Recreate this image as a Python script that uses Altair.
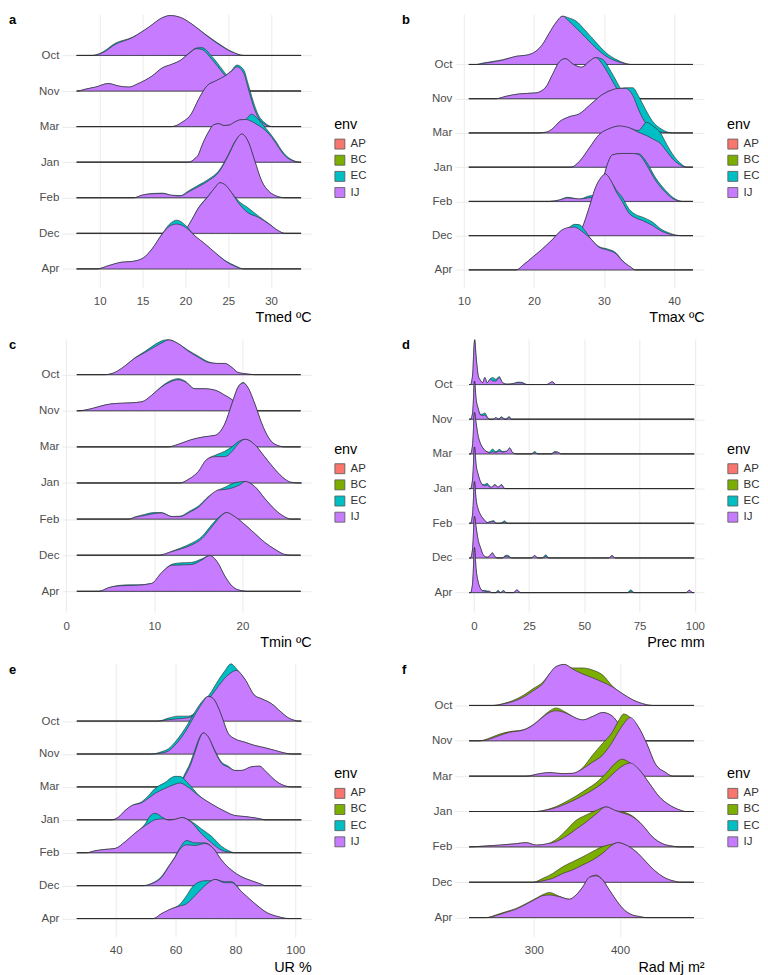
import altair as alt
import pandas as pd

MONTHS = ["Apr", "Dec", "Feb", "Jan", "Mar", "Nov", "Oct"]          # bottom -> top rows
DRAW_ORDER = ["Oct", "Nov", "Mar", "Jan", "Feb", "Dec", "Apr"]      # upper ridges first
ENV = ["AP", "BC", "EC", "IJ"]
ENV_COLORS = ["#F8766D", "#7CAE00", "#00BFC4", "#C77CFF"]

# each month: (x values, IJ density height, stacked EC/BC height) in ridge-row units
TMED = {
    "Oct": ([9.1, 10.3, 11.8, 13.8, 15.7, 17.3, 18.2, 19.4, 20.7, 22.3, 23.9, 25.4, 26.8],
            [0, .07, .31, .5, .79, 1.06, 1.12, 1.07, .89, .59, .31, .1, 0],
            [0, .02, .03, .01, 0, 0, 0, 0, 0, .01, .02, .01, 0]),
    "Nov": ([7.4, 8.3, 9.5, 11.0, 12.2, 13.4, 14.5, 16.1, 17.3, 18.4, 19.4, 20.4, 21.3, 21.9, 23.1, 24.2, 24.8, 26.0, 27.0, 27.7],
            [0, .05, .11, .21, .14, .11, .21, .42, .65, .75, .86, 1.05, 1.19, 1.17, .89, .56, .39, .2, .05, 0],
            [0, 0, 0, 0, 0, 0, 0, 0, 0, 0, 0, .01, .02, .05, .08, .08, .06, .03, .01, 0]),
    "Mar": ([18.4, 19.6, 20.7, 21.5, 22.5, 23.5, 24.6, 25.4, 26.0, 26.8, 27.3, 27.9, 28.5, 29.3, 30.1],
            [0, .12, .36, .75, 1.14, 1.28, 1.42, 1.56, 1.68, 1.5, 1.1, .6, .25, .06, 0],
            [0, 0, 0, 0, 0, 0, 0, .02, .05, .1, .12, .12, .08, .04, 0]),
    "Jan": ([20.4, 21.1, 21.5, 21.9, 22.7, 23.3, 23.9, 24.5, 25.1, 25.7, 26.4, 27.0, 27.7, 28.4, 29.3, 30.0, 30.6, 31.2, 31.8, 32.5, 33.3],
            [0, .1, .2, .45, .85, 1.05, 1.08, 1.03, 1.04, 1.12, 1.19, 1.2, 1.15, 1.05, .9, .72, .52, .3, .14, .04, 0],
            [0, 0, 0, 0, 0, 0, 0, 0, 0, 0, 0, 0, .2, .18, .08, .05, .05, .04, .03, .02, 0]),
    "Feb": ([14.0, 14.9, 16.1, 17.3, 18.4, 19.4, 20.4, 21.5, 22.7, 23.9, 25.0, 25.8, 26.6, 27.3, 28.1, 28.9, 29.7, 30.4, 31.6],
            [0, .07, .11, .12, .07, .05, .17, .31, .48, .72, 1.18, 1.57, 1.79, 1.59, 1.03, .47, .19, .07, 0],
            [0, 0, .01, .01, 0, .01, .03, .04, .04, .04, .03, .02, 0, 0, 0, 0, 0, 0, 0]),
    "Dec": ([19.0, 20.0, 20.55, 21.5, 22.7, 23.5, 24.0, 24.7, 25.4, 26.2, 27.3, 28.5, 29.7, 30.8, 31.6],
            [0, .1, .3, .7, 1.05, 1.3, 1.42, 1.35, 1.14, .85, .58, .45, .27, .08, 0],
            [0, 0, 0, .01, .01, 0, 0, 0, 0, .06, .14, .04, .01, 0, 0]),
    "Apr": ([9.7, 11.0, 12.6, 13.8, 15.1, 16.1, 17.3, 18.2, 19.0, 20.0, 21.1, 22.3, 23.5, 24.6, 25.8, 26.8],
            [0, .09, .19, .21, .31, .56, .98, 1.21, 1.26, 1.17, .93, .7, .45, .23, .07, 0],
            [0, 0, 0, 0, 0, 0, .01, .06, .11, .06, 0, 0, 0, .01, .02, 0]),
}

TMAX = {
    "Oct": ([11.8, 12.7, 14.1, 15.6, 17.5, 18.9, 20.3, 21.2, 22.2, 23.1, 24.1, 25.0, 26.0, 27.4, 28.8, 30.3, 31.7, 33.1, 33.8],
            [0, .03, .07, .13, .24, .27, .39, .58, .92, 1.21, 1.41, 1.26, 1.07, .78, .49, .24, .1, .02, 0],
            [0, .01, .02, .01, 0, 0, 0, 0, 0, 0, 0, .1, .2, .2, .17, .1, .05, .01, 0]),
    "Nov": ([14.6, 16.0, 17.9, 20.3, 21.7, 22.7, 23.6, 24.5, 25.5, 26.8, 27.9, 28.8, 29.8, 30.7, 31.7, 32.6, 33.6, 34.5],
            [0, .07, .14, .17, .34, .73, 1.07, 1.17, 1.02, .92, 1.09, 1.2, 1.0, .7, .34, .1, .02, 0],
            [0, 0, 0, 0, 0, 0, 0, 0, 0, 0, 0, 0, .15, .2, .2, .12, .05, 0]),
    "Mar": ([20.3, 21.7, 22.7, 23.6, 25.0, 26.5, 27.9, 29.3, 30.7, 32.2, 33.1, 34.1, 35.0, 35.9, 36.9, 38.3, 39.8],
            [0, .02, .13, .32, .47, .56, .8, 1.05, 1.22, 1.3, 1.3, 1.1, .65, .3, .1, .02, 0],
            [0, 0, 0, 0, 0, 0, 0, 0, 0, 0, .02, .22, .4, .4, .25, .08, 0]),
    "Jan": ([25.3, 26.5, 27.9, 29.3, 30.7, 32.2, 33.6, 34.9, 36.1, 37.0, 38.0, 39.0, 40.0, 41.0, 41.8],
            [0, .17, .56, .95, 1.12, 1.2, 1.15, 1.02, .92, .82, .7, .45, .2, .05, 0],
            [0, 0, 0, 0, 0, 0, 0, .05, .39, .38, .32, .2, .12, .05, 0]),
    "Feb": ([22.2, 23.6, 24.8, 26.5, 27.7, 28.8, 29.8, 30.5, 31.2, 32.6, 34.1, 35.0, 36.0, 37.4, 38.8, 40.2, 41.2],
            [0, .04, .1, .07, .1, .15, .6, 1.09, 1.36, 1.4, 1.4, 1.36, 1.09, .6, .26, .04, 0],
            [0, 0, .02, 0, .05, .05, 0, 0, 0, 0, 0, .03, .08, .08, .06, .03, 0]),
    "Dec": ([26.0, 26.9, 27.9, 28.8, 29.6, 30.2, 31.0, 31.7, 32.6, 33.6, 34.5, 35.5, 36.9, 38.3, 39.3, 40.2, 41.0],
            [0, .24, .83, 1.41, 1.7, 1.8, 1.6, 1.3, 1.0, .65, .52, .44, .3, .12, .05, .01, 0],
            [0, 0, 0, 0, 0, 0, 0, .05, .12, .12, .1, .1, .1, .05, .03, .01, 0]),
    "Apr": ([17.5, 18.4, 19.8, 21.2, 22.7, 23.9, 25.0, 25.8, 26.5, 27.2, 27.9, 29.3, 30.5, 31.7, 32.6, 33.8, 34.5],
            [0, .13, .37, .61, .9, 1.15, 1.24, 1.25, 1.18, 1.07, .95, .66, .58, .47, .27, .08, 0],
            [0, 0, 0, 0, 0, 0, 0, .08, .14, .1, .02, .02, .03, .03, .01, 0, 0]),
}

TMIN = {
    "Oct": ([4.4, 5.5, 6.7, 7.8, 8.9, 10.1, 11.0, 11.6, 12.7, 13.8, 15.0, 16.1, 17.2, 18.0, 18.8, 19.5, 20.5, 21.4],
            [0, .06, .25, .46, .61, .78, .9, .96, .86, .66, .48, .34, .31, .31, .2, .06, .02, 0],
            [0, 0, 0, .01, .03, .06, .05, .01, 0, .02, .03, .02, 0, 0, 0, 0, 0, 0]),
    "Nov": ([1.4, 2.9, 4.4, 5.5, 7.4, 8.6, 9.7, 10.8, 11.8, 12.7, 13.5, 14.6, 15.7, 16.9, 18.0, 18.8, 19.5, 20.5, 21.4],
            [0, .06, .16, .2, .22, .25, .43, .66, .8, .86, .8, .61, .61, .57, .43, .31, .16, .04, 0],
            [0, 0, 0, 0, 0, 0, 0, .01, .03, .03, .02, 0, 0, 0, 0, 0, 0, 0, 0]),
    "Mar": ([11.6, 12.7, 14.2, 15.7, 16.9, 18.0, 18.8, 19.5, 20.1, 20.6, 21.4, 22.2, 22.9, 23.7, 24.8],
            [0, .07, .2, .28, .32, .64, 1.19, 1.65, 1.77, 1.65, 1.19, .64, .28, .07, 0],
            [0, 0, 0, 0, 0, 0, 0, .01, .01, 0, 0, 0, 0, 0, 0]),
    "Jan": ([12.9, 13.8, 15.0, 15.9, 16.9, 18.0, 18.8, 19.5, 20.3, 21.4, 22.5, 23.7, 24.8, 25.5, 26.7],
            [0, .09, .32, .64, .73, .73, .87, 1.08, 1.21, 1.06, .73, .37, .11, .02, 0],
            [0, 0, 0, 0, .04, .15, .13, .06, 0, 0, 0, 0, 0, 0, 0]),
    "Feb": ([7.1, 7.8, 8.9, 9.9, 10.8, 12.0, 12.9, 14.0, 15.0, 16.1, 17.2, 18.0, 18.8, 19.7, 20.3, 21.4, 22.5, 23.7, 24.8, 25.5],
            [0, .05, .1, .15, .17, .07, .07, .19, .33, .6, .8, .82, .86, .95, 1.04, .9, .58, .26, .06, 0],
            [0, .01, .03, .03, .01, 0, .01, .03, .03, .02, 0, .06, .12, .08, 0, 0, 0, 0, 0, 0]),
    "Dec": ([10.5, 12.0, 13.1, 14.2, 15.4, 16.5, 17.4, 18.2, 19.1, 20.3, 21.4, 22.5, 23.7, 24.8, 25.5],
            [0, .1, .18, .28, .46, .78, 1.04, 1.18, 1.07, .84, .6, .36, .16, .02, 0],
            [0, .01, .03, .05, .06, .06, .03, 0, 0, 0, 0, 0, 0, 0, 0]),
    "Apr": ([3.7, 4.8, 5.9, 7.1, 8.2, 9.7, 10.8, 12.0, 13.1, 14.2, 15.4, 16.3, 17.2, 18.0, 18.8, 19.5, 20.5],
            [0, .1, .15, .16, .17, .22, .51, .72, .73, .74, .87, .99, .79, .42, .15, .04, 0],
            [0, 0, .01, .02, .01, 0, 0, .03, .06, .06, .03, 0, 0, 0, 0, 0, 0]),
}

PREC = {
    "Oct": ([-1.5, -0.5, 0, 0.4, 1, 1.5, 2, 3, 4, 5, 6, 7.5, 8.5, 10, 11.5, 13, 15, 18, 20, 22, 24, 33, 35.5, 37],
            [0, .3, 1.0, 1.29, .8, .5, .25, .12, .05, .2, .05, .15, .1, .1, .2, .05, .01, .03, .05, .04, 0, 0, .08, 0],
            [0, 0, 0, 0, .05, 0, 0, 0, 0, 0, 0, .02, .1, .05, .03, 0, 0, 0, .02, .02, 0, 0, 0, 0]),
    "Nov": ([-1.5, -0.5, 0.3, 1, 2, 3, 4, 5, 6, 7, 9, 10, 11, 12.5, 13.5, 14.5, 16, 17],
            [0, .2, 1.1, .6, .3, .12, .1, .12, .05, 0, 0, .05, 0, .05, .02, 0, .05, 0],
            [0, 0, 0, 0, 0, .02, .05, .06, .03, 0, 0, 0, 0, .02, 0, 0, .03, 0]),
    "Mar": ([-1.5, -0.5, 0.3, 1, 2, 3, 4, 5, 6, 7, 8.5, 10, 11.5, 13, 15, 16.2, 17.5, 19, 26, 27.5, 29, 35, 36.5, 38, 39.5],
            [0, .3, 1.2, .9, .5, .3, .18, .1, .06, .03, .06, .04, .08, .05, .08, .17, .04, 0, 0, .03, 0, 0, .04, .05, 0],
            [0, 0, 0, 0, 0, 0, 0, 0, 0, .02, .08, .02, .05, .02, 0, 0, 0, 0, 0, .04, 0, 0, .03, 0, 0]),
    "Jan": ([-1.5, -0.5, 0.3, 1, 2, 3, 4, 5, 6, 7, 8, 9.5, 11, 12.5, 14],
            [0, .3, 1.2, .7, .4, .2, .1, .08, .1, .05, .04, .1, .04, .1, 0],
            [0, 0, 0, 0, 0, 0, .02, .04, .05, .03, 0, .02, 0, .02, 0]),
    "Feb": ([-1.5, -0.5, 0.3, 1, 2, 3, 4, 5, 6, 7, 8, 9, 10, 12, 14, 15],
            [0, .3, 1.2, .7, .4, .25, .15, .08, .02, .03, .04, .05, 0, 0, .03, 0],
            [0, 0, 0, 0, 0, 0, 0, 0, 0, .01, .02, .03, 0, 0, .04, 0]),
    "Dec": ([-1.5, -0.5, 0.3, 1, 2, 3, 4, 5, 6, 7, 8.4, 9.5, 10.5, 13, 14, 15, 16, 17, 26, 27.5, 29, 31, 32.5, 34, 61, 62.5, 64],
            [0, .3, 1.2, .9, .5, .3, .12, .04, .02, .05, .14, .04, 0, 0, .04, .05, .03, 0, 0, .06, 0, 0, .04, 0, 0, .06, 0],
            [0, 0, 0, 0, 0, 0, 0, 0, 0, 0, .01, 0, 0, 0, .02, .03, .02, 0, 0, .01, 0, 0, .05, 0, 0, .01, 0]),
    "Apr": ([-1.5, -0.5, 0.3, 1, 2, 3, 4, 5, 6, 7, 8, 10, 11, 12, 13.5, 14.5, 18, 19.5, 21, 69.5, 71, 72.5, 96, 97.5, 99],
            [0, .3, 1.3, .7, .3, .12, .05, .04, .03, .04, 0, 0, .04, 0, .05, 0, 0, .08, 0, 0, .03, 0, 0, .07, 0],
            [0, 0, 0, 0, 0, 0, .01, .02, .02, 0, 0, 0, .03, 0, .01, 0, 0, 0, 0, 0, .05, 0, 0, 0, 0]),
}

UR = {
    "Oct": ([54.2, 57.6, 60.9, 64.2, 67, 69.5, 72, 74.2, 76.4, 78.5, 80.3, 83.1, 86.4, 88.7, 92.0, 95.3, 97.6, 99.8, 101],
            [0, .04, .07, .1, .25, .5, .78, 1.05, 1.3, 1.47, 1.54, 1.28, .78, .68, .53, .27, .1, .02, 0],
            [0, .05, .08, .05, .04, .08, .12, .18, .22, .27, .05, 0, 0, 0, 0, 0, 0, 0, 0]),
    "Nov": ([52, 55.3, 57.6, 59.8, 62, 64.2, 66.4, 68.7, 70.9, 72.6, 74.2, 75.9, 77.6, 79.8, 83.1, 86.4, 89.8, 93.1, 96.4, 98.7],
            [0, .03, .09, .27, .51, .82, 1.18, 1.52, 1.75, 1.68, 1.42, 1.02, .62, .46, .36, .26, .19, .11, .03, 0],
            [0, .04, .07, .09, .11, .11, .09, .06, 0, 0, 0, 0, 0, 0, 0, 0, 0, 0, 0, 0]),
    "Mar": ([60, 61.4, 63.1, 64.8, 66.4, 68.1, 69.2, 70.9, 73.1, 75.3, 77.6, 79.8, 82, 85.3, 88.1, 89.8, 92, 94.8, 97, 98.7],
            [0, .06, .33, .63, 1.03, 1.48, 1.64, 1.52, 1.08, .72, .6, .5, .5, .61, .63, .5, .3, .1, .02, 0],
            [0, .04, .07, .08, .08, .04, 0, 0, .03, .04, .03, 0, 0, 0, 0, 0, 0, 0, 0, 0]),
    "Jan": ([38.7, 40.9, 43.1, 45.3, 48.7, 51, 53.1, 56.4, 59.8, 61.4, 64.2, 67.6, 72, 76.4, 79.8, 83.1, 86.4, 88.7, 89.8],
            [0, .08, .28, .43, .52, .66, .8, .95, 1.08, 1.12, .99, .74, .48, .26, .13, .1, .06, .02, 0],
            [0, 0, 0, 0, .03, .08, .15, .18, .24, .2, .12, .02, 0, 0, 0, 0, 0, 0, 0]),
    "Feb": ([30.3, 33.1, 36.4, 39.8, 43.1, 46.4, 49.8, 51.5, 53.1, 55.9, 57.6, 60.9, 62, 65.3, 68.7, 72, 75.3, 77.6, 79.8],
            [0, .06, .1, .13, .33, .59, .82, .92, 1.0, 1.03, .99, 1.04, 1.07, .92, .57, .3, .08, .02, 0],
            [0, 0, 0, 0, 0, 0, .05, .2, .2, .03, 0, 0, 0, .03, .15, .2, .12, .05, 0]),
    "Dec": ([49.2, 52, 55.3, 57.6, 59.8, 61.4, 63.7, 66.4, 69.8, 72.6, 75.3, 78.7, 82, 85.3, 88.7, 89.8],
            [0, .06, .25, .56, .86, 1.1, 1.24, 1.22, 1.28, 1.13, .78, .47, .27, .15, .04, 0],
            [0, .01, .03, .02, .02, .04, .13, .08, .02, 0, 0, 0, 0, 0, 0, 0]),
    "Apr": ([52.6, 55.3, 58.7, 61.4, 63.7, 65.5, 67.6, 69.8, 72, 73.1, 76.4, 78.7, 82, 86.4, 90.9, 94.2, 97.6],
            [0, .15, .3, .38, .45, .6, .8, 1.0, 1.15, 1.19, 1.09, 1.09, .82, .46, .16, .06, 0],
            [0, 0, 0, .05, .25, .35, .3, .15, 0, 0, .03, .03, 0, 0, 0, 0, 0]),
}

RAD = {
    "Oct": ([252.5, 264, 275.7, 287.3, 298.8, 310.4, 318, 325.9, 335.5, 345, 356.8, 368.3, 379.9, 391.5, 403.1, 414.7, 426.3, 437.8],
            [0, .04, .11, .23, .41, .62, .89, 1.1, 1.16, 1.03, .89, .78, .66, .52, .33, .16, .05, 0],
            [0, .01, .03, .05, .06, .04, 0, 0, 0, .03, .17, .22, .2, .02, 0, 0, 0, 0]),
    "Nov": ([237, 248.6, 260.2, 271.8, 287.3, 298.8, 310.4, 318, 325.9, 337.5, 349, 356.8, 368.3, 379.9, 391.5, 399.2, 406.9, 414.7, 422.4],
            [0, .05, .15, .24, .3, .44, .67, .8, .85, .78, .64, .59, .69, .8, .69, .45, .17, .03, 0],
            [0, .03, .04, .02, .01, .01, .02, .04, .08, .02, 0, 0, 0, 0, 0, 0, 0, 0, 0]),
    "Mar": ([291, 306.6, 318, 333.6, 345.2, 356.8, 368.3, 379.2, 390.7, 399.2, 404.3, 412, 421.7, 431.3, 441, 452.6, 461.3],
            [0, .07, .1, .07, .08, .21, .4, .58, .95, 1.3, 1.48, 1.66, 1.38, .91, .35, .11, 0],
            [0, 0, 0, 0, 0, .03, .2, .33, .28, .3, .28, 0, 0, 0, 0, 0, 0]),
    "Jan": ([302.7, 314.3, 325.9, 337.5, 349, 360.6, 372.2, 383.8, 394.7, 402.4, 412, 422.4, 434, 445.6, 457.1, 468.7, 476.4],
            [0, .04, .11, .22, .35, .5, .67, .88, 1.13, 1.28, 1.37, 1.18, .8, .42, .19, .05, 0],
            [0, .01, .03, .06, .09, .12, .14, .2, .24, .2, 0, 0, 0, 0, 0, 0, 0]),
    "Feb": ([225.5, 241, 260.2, 279.5, 291.1, 302.7, 314.3, 325.9, 337.5, 349, 360.6, 372.2, 383.8, 395.4, 403.1, 414.7, 426.3, 437.8, 449.4, 461, 468.7],
            [0, .02, .05, .09, .12, .05, .08, .15, .3, .5, .7, .93, 1.13, 1.02, .96, .85, .61, .28, .09, .02, 0],
            [0, 0, 0, 0, 0, 0, 0, .06, .17, .25, .2, .1, 0, 0, .03, .02, 0, 0, 0, 0, 0]),
    "Dec": ([298.8, 310.4, 322, 333.6, 345.2, 356.8, 368.3, 379.9, 391.5, 397.3, 407, 418.5, 430.1, 441.7, 453.3, 464.9, 468.7],
            [0, .04, .11, .25, .35, .49, .63, .82, 1.06, 1.12, 1.05, .87, .58, .3, .11, .02, 0],
            [0, .07, .14, .19, .23, .23, .24, .19, .02, 0, 0, 0, 0, 0, 0, 0, 0]),
    "Apr": ([244.8, 256.4, 268, 279.5, 291.1, 302.7, 310.4, 318, 329.7, 341.3, 349, 356.8, 364.5, 372.2, 379.9, 387.6, 395.4, 403.1, 412.7, 422.4, 430.1],
            [0, .06, .15, .24, .38, .53, .62, .64, .59, .52, .64, .87, 1.14, 1.18, 1.06, .78, .5, .26, .09, .03, 0],
            [0, .02, .02, .02, .02, .02, .03, .07, .01, 0, 0, 0, 0, .02, .01, 0, 0, 0, 0, 0, 0]),
}

FONT = "Liberation Sans"
OUTLINE = "#262626"


def panel(letter, xtitle, dens, extra_env, xdom, xticks, xspan, ydom):
    rows = []
    for m, (xs, ij, ex) in dens.items():
        i = MONTHS.index(m)
        xs2 = [xspan[0]] + xs + [xspan[1]]
        ij2 = [0] + ij + [0]
        ex2 = [0] + ex + [0]
        for x, h, e in zip(xs2, ij2, ex2):
            rows.append({"month": m, "x": x, "base": i, "ij": i + h, "tot": i + h + e})
    df = pd.DataFrame(rows)

    xenc = alt.X("x:Q", scale=alt.Scale(domain=xdom, nice=False, zero=False),
                 axis=alt.Axis(values=xticks, format="d", title=xtitle, grid=True, ticks=False,
                               tickSize=0, domain=False, labelFontSize=11.5, labelColor="#4D4D4D",
                               labelPadding=8, titleAnchor="end", titleFontSize=14.4,
                               titleFontWeight="normal", titleColor="#000000", titlePadding=4,
                               gridColor="#EBEBEB", gridWidth=1))
    yscale = alt.Scale(domain=ydom, nice=False, zero=False)
    yaxis = alt.Axis(values=list(range(7)), title=None, grid=True, ticks=False, tickSize=0,
                     domain=False, labelFontSize=11.5, labelColor="#4D4D4D", labelPadding=3,
                     labelExpr="['Apr','Dec','Feb','Jan','Mar','Nov','Oct'][datum.value]",
                     gridColor="#EBEBEB", gridWidth=1)
    color = alt.Color("env:N", scale=alt.Scale(domain=ENV, range=ENV_COLORS),
                      legend=alt.Legend(title="env", orient="none", legendX=273, legendY=104,
                                        symbolType="square", symbolSize=100,
                                        symbolStrokeColor="#555555", symbolStrokeWidth=0.8,
                                        symbolOpacity=1, labelFontSize=11.5, labelColor="#333333",
                                        titleFontSize=14.4, titleFontWeight="normal",
                                        titleColor="#000000", titlePadding=6, rowPadding=2.2,
                                        labelOffset=5))
    layers = []
    base = alt.Chart(df)
    for m in DRAW_ORDER:
        sub = base.transform_filter(alt.datum.month == m)
        layers.append(
            sub.transform_calculate(env=f"'{extra_env}'")
            .mark_area(interpolate="monotone", stroke=OUTLINE, strokeWidth=0.6)
            .encode(x=xenc, y=alt.Y("tot:Q", scale=yscale, axis=yaxis), y2="base:Q", color=color)
        )
        layers.append(
            sub.transform_calculate(env="'IJ'")
            .mark_area(interpolate="monotone", stroke=OUTLINE, strokeWidth=0.6)
            .encode(x=xenc, y=alt.Y("ij:Q", scale=yscale, axis=yaxis), y2="base:Q", color=color)
        )
    lab = alt.Chart(pd.DataFrame({"t": [letter]})).mark_text(
        align="left", baseline="middle", fontWeight="bold", fontSize=13, font=FONT, color="#000000"
    ).encode(text="t:N", x=alt.value(-53), y=alt.value(6))
    layers.append(lab)
    return alt.layer(*layers).properties(width=250, height=274)


pa = panel("a", "Tmed ºC", TMED, "EC", [5.58, 34.68], [10, 15, 20, 25, 30], (7.3, 33.5), [-0.524, 7.157])
pb = panel("b", "Tmax ºC", TMAX, "EC", [8.7, 44.3], [10, 20, 30, 40], (10.7, 42.7), [-0.516, 7.466])
pc = panel("c", "Tmin ºC", TMIN, "EC", [-0.5, 27.8], [0, 10, 20], (1.2, 26.6), [-0.578, 6.99])
pd_ = panel("d", "Prec mm", PREC, "EC", [-8.6, 104.2], [0, 25, 50, 75, 100], (-2.1, 99.7), [-0.564, 7.315])
pe = panel("e", "UR %", UR, "EC", [22.0, 105.3], [40, 60, 80, 100], (27, 102), [-0.555, 7.748])
pf = panel("f", "Rad Mj m²", RAD, "BC", [208.1, 497.8], [300, 400], (224.7, 486), [-0.544, 7.185])

chart = (
    alt.concat(pa, pb, pc, pd_, pe, pf, columns=2, spacing={"row": 13.5, "column": 35})
    .resolve_scale(color="independent")
    .properties(padding={"left": 1, "top": 5, "right": 0, "bottom": 0})
    .configure(font=FONT)
    .configure_view(stroke=None)
)

chart.save("out.html", embed_options={"renderer": "svg", "actions": False})
